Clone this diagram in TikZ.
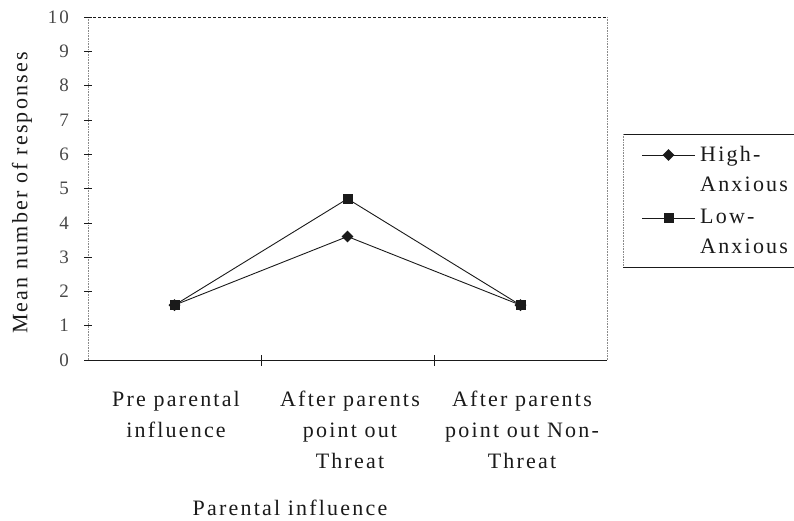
\documentclass[tikz,border=0pt]{standalone}
\usepackage{fontspec}
\setmainfont{Liberation Serif}[LetterSpace=10]
\usetikzlibrary{shapes.geometric,positioning,calc}
\definecolor{axInk}{HTML}{1A1A1A}
\definecolor{axGray}{HTML}{8A8A8A}
\tikzset{
  hmark/.style={diamond,fill=axInk,inner sep=0pt,minimum size=12pt},
  lmark/.style={rectangle,fill=axInk,inner sep=0pt,minimum size=10pt},
  serline/.style={line width=0.9pt,color=axInk},
  dotax/.style={densely dotted,line width=0.6pt,color=axGray},
  dashax/.style={densely dashed,line width=0.8pt,color=axInk},
  solax/.style={line width=1pt,color=axInk},
  catlbl/.style={align=center,anchor=north,inner sep=0pt,
    font=\fontsize{22}{31}\selectfont,text=axInk},
  leglbl/.style={align=left,anchor=north west,inner sep=0pt,
    font=\fontsize{22}{30}\selectfont,text=axInk},
  ylbl/.style={anchor=east,inner sep=0pt,
    font=\fontsize{19}{20}\selectfont,text=axInk!80},
  ttl/.style={font=\fontsize{22}{24}\selectfont,text=axInk},
}
\begin{document}
\begin{tikzpicture}[x=1pt,y=-1pt]
  \useasboundingbox (0,0) rectangle (794,520);

  % frame of the plot area
  \draw[dashax] (88,17) -- (607,17);
  \draw[dotax] (607,17) -- (607,360);
  \draw[dotax] (88,17) -- (88,360);
  \draw[solax] (84,360) -- (607,360);
  \foreach \tx in {261,434}
    \draw[axInk,line width=0.5pt] (\tx,355) -- (\tx,366);

  % y axis
  \foreach \v in {0,...,10} {
    \node[ylbl] (y\v) at (69,{360-34.3*\v}) {\v};
    \draw[axInk,line width=0.6pt] (84,{360-34.3*\v}) -- (92,{360-34.3*\v});
  }
  \node[ttl,rotate=90] (ytitle) at (22,193) {Mean number of responses};

  % data
  \foreach \i/\x/\hv/\lv in {1/174.5/1.6/1.6, 2/347.5/3.6/4.7, 3/520.5/1.6/1.6} {
    \coordinate (h\i) at (\x,{360-34.3*\hv});
    \coordinate (l\i) at (\x,{360-34.3*\lv});
  }
  \draw[serline] (h1) -- (h2) -- (h3);
  \draw[serline] (l1) -- (l2) -- (l3);
  \foreach \i in {1,2,3} {
    \node[lmark] (lm\i) at (l\i) {};
    \node[hmark] (hm\i) at (h\i) {};
  }

  % categories
  \node[catlbl] (c1) at (176,391) {Pre parental\\influence};
  \node[catlbl] (c2) at (350,391) {After parents\\point out\\Threat};
  \node[catlbl] (c3) at (522,391) {After parents\\point out Non-\\Threat};
  \node[ttl] (xtitle) at (290,508) {Parental influence};

  % legend
  \draw[axInk,line width=0.8pt] (794,134) -- (623,134);
  \draw[dotax] (623,134) -- (623,267);
  \draw[axInk,line width=0.8pt] (623,267) -- (794,267);
  \coordinate (ha) at (642,155);
  \coordinate (hb) at (695,155);
  \coordinate (la) at (642,218);
  \coordinate (lb) at (695,218);
  \draw[serline] (ha) -- (hb);
  \draw[serline] (la) -- (lb);
  \node[hmark] (hleg) at ($(ha)!0.5!(hb)$) {};
  \node[lmark] (lleg) at ($(la)!0.5!(lb)$) {};
  \node[leglbl] (htxt) at (700,146) {High-\\Anxious};
  \node[leglbl] (ltxt) at (700,209) {Low-\\Anxious};
\end{tikzpicture}
\end{document}
